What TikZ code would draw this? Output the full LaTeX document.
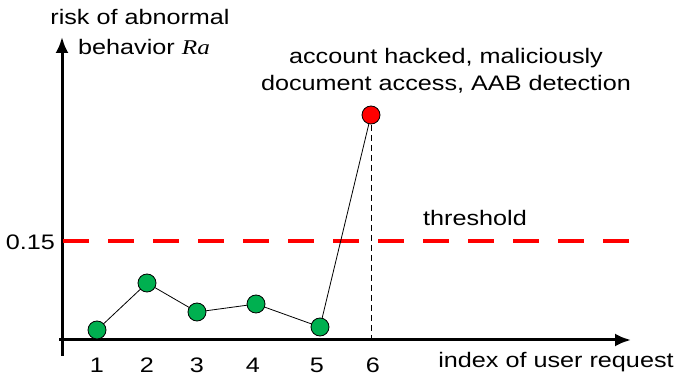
\documentclass[tikz,border=0pt]{standalone}
\usepackage{fontspec}
\setmainfont{Liberation Sans}[FakeStretch=1.2]
\newfontfamily\rafont{Liberation Serif}[FakeStretch=1.2]
\usetikzlibrary{arrows.meta}
\definecolor{okgreen}{RGB}{0,176,80}
\tikzset{
  okdot/.style={circle,draw=black,fill=okgreen,inner sep=0pt,minimum size=18pt,line width=0.8pt},
  hackdot/.style={okdot,fill=red},
  lbl/.style={font=\fontsize{21}{25}\selectfont,inner sep=0pt}
}
\begin{document}
\begin{tikzpicture}[x=1pt,y=-1pt]
\useasboundingbox (0,0) rectangle (678,382);
  % axes
  \coordinate (O) at (62,340);
  \draw[line width=3pt,-{Latex[length=16pt,width=13pt]}] (62,356) -- (62,37) coordinate(ytop);
  \draw[line width=3pt,-{Latex[length=16pt,width=13pt]}] (59,340) -- (631,340) coordinate(xend);
  \node[lbl] (ylbl1) at (140,17) {risk of abnormal};
  \node[lbl,anchor=west] (ylbl2) at (78,47) {behavior {\rafont\itshape Ra}};
  \node[lbl] (xlbl) at (556,362) {index of user request};
  % threshold
  \coordinate (t0) at (63,241);
  \coordinate (t1) at (634,241);
  \draw[red, line width=4pt, dash pattern=on 26pt off 19pt] (t0) -- (t1);
  \node[lbl,anchor=east] (thv) at (55,242) {0.15};
  \node[lbl] (thl) at (475,218) {threshold};
  % requests
  \coordinate (p1) at (97,330);
  \coordinate (p2) at (147,283);
  \coordinate (p3) at (197,312);
  \coordinate (p4) at (256,304);
  \coordinate (p5) at (320,327);
  \coordinate (p6) at (371,115);
  \coordinate (p6x) at (371,340);
  \draw[line width=0.8pt,dash pattern=on 6pt off 4pt] (p6) -- (p6x);
  \draw[line width=0.8pt] (p1) -- (p2) -- (p3) -- (p4) -- (p5) -- (p6);
  \foreach \point in {p1,p2,p3,p4,p5}
  	\node[okdot] at (\point) {};
  \node[hackdot] (hack) at (p6) {};
  \foreach \i/\x in {1/97,2/147,3/197,4/253,5/317,6/373}
    \node[lbl] (n\i) at (\x,365) {\i};
  \node[lbl,align=center] (hacktxt) at (446,71) {account hacked, maliciously\\[2pt]document access, AAB detection};
\end{tikzpicture}
\end{document}
